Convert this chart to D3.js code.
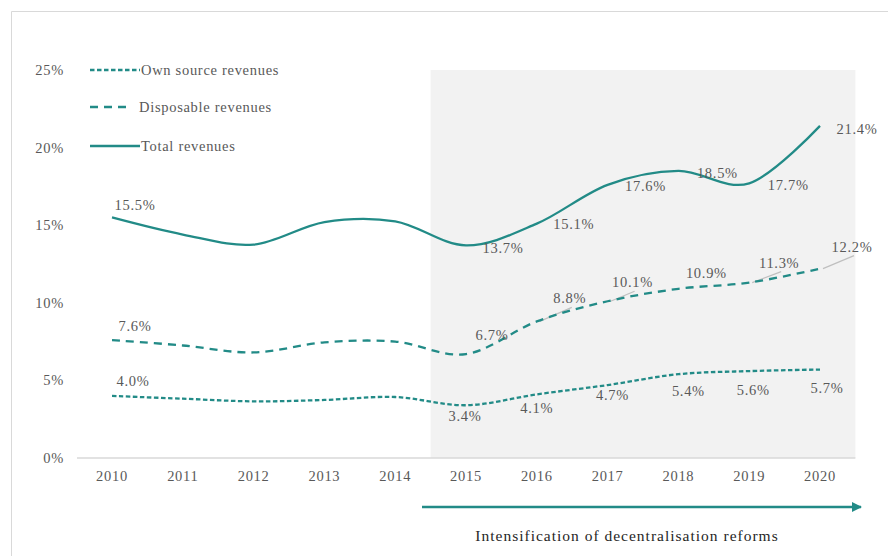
<!DOCTYPE html>
<html>
<head>
<meta charset="utf-8">
<script src="https://cdn.jsdelivr.net/npm/d3@7"></script>
<style>
  body { margin: 0; background: #fff; }
  svg text { font-family: "Liberation Serif", "Times New Roman", serif; fill: #595959; letter-spacing: 0.7px; }
</style>
</head>
<body>
<svg id="chart" width="888" height="556"></svg>
<script>
// data (percent of GDP)
const years = [2010, 2011, 2012, 2013, 2014, 2015, 2016, 2017, 2018, 2019, 2020];
const ownSource = [4.0, 3.82, 3.65, 3.74, 3.93, 3.4, 4.1, 4.7, 5.4, 5.6, 5.7];
const disposable = [7.6, 7.25, 6.8, 7.45, 7.5, 6.7, 8.8, 10.1, 10.9, 11.3, 12.2];
const total = [15.5, 14.4, 13.75, 15.2, 15.25, 13.7, 15.1, 17.6, 18.5, 17.7, 21.4];
const yTicks = [0, 5, 10, 15, 20, 25];
const labelledYears = [2010, 2015, 2016, 2017, 2018, 2019, 2020];
const reformStart = 2015;

// label offsets from their point (px), [dx, dy]
const totalOffsets = { 2010: [23, -13], 2015: [37, 3], 2016: [37, 0], 2017: [38, 1], 2018: [39, 2], 2019: [39, 2], 2020: [37, 3] };
const dispOffsets = { 2010: [23, -14], 2015: [26, -19], 2016: [33, -23], 2017: [25, -19], 2018: [28, -16], 2019: [30, -20], 2020: [32, -22] };
const ownOffsets = { 2010: [21, -15], 2015: [-1, 11], 2016: [0, 14], 2017: [5, 10], 2018: [10, 17], 2019: [4, 19], 2020: [7, 18] };
const dispLeaders = [2016, 2017, 2019, 2020];

const teal = "#228b87";
const fontSize = "14.5px";
const svg = d3.select("#chart");

// outer frame
svg.append("path")
  .attr("d", "M11.5,556 V11.5 H888")
  .attr("fill", "none")
  .attr("stroke", "#d9d9d9");

const x = d3.scalePoint().domain(years).range([112, 820]);
const y = d3.scaleLinear().domain([0, 25]).range([458, 70]);
const step = x.step();

// shaded reform period
svg.append("rect")
  .attr("x", x(reformStart) - step / 2)
  .attr("y", y(25))
  .attr("width", x(2020) + step / 2 - (x(reformStart) - step / 2))
  .attr("height", y(0) - y(25))
  .attr("fill", "#f2f2f2");

// axes
svg.append("line")
  .attr("x1", 77).attr("x2", x(2020) + step / 2)
  .attr("y1", y(0)).attr("y2", y(0))
  .attr("stroke", "#d9d9d9").attr("stroke-width", 1.5);

svg.append("g")
  .selectAll("text")
  .data(yTicks)
  .join("text")
  .attr("x", 64)
  .attr("y", (d) => y(d))
  .attr("dy", "0.35em")
  .attr("text-anchor", "end")
  .style("font-size", fontSize)
  .text((d) => d + "%");

svg.append("g")
  .selectAll("text")
  .data(years)
  .join("text")
  .attr("x", (d) => x(d))
  .attr("y", 476)
  .attr("dy", "0.35em")
  .attr("text-anchor", "middle")
  .style("font-size", fontSize)
  .text((d) => d);

const series = [
  { name: "Own source revenues", values: ownSource, dash: "4.5,2.5", offsets: ownOffsets },
  { name: "Disposable revenues", values: disposable, dash: "8,6", offsets: dispOffsets },
  { name: "Total revenues", values: total, dash: null, offsets: totalOffsets }
];

const line = d3.line()
  .x((d) => x(d.year))
  .y((d) => y(d.value))
  .curve(d3.curveCatmullRom.alpha(0));

// leader lines for some disposable labels
svg.append("g")
  .selectAll("line")
  .data(dispLeaders)
  .join("line")
  .attr("x1", (d) => x(d) + 3)
  .attr("y1", (d) => y(disposable[years.indexOf(d)]))
  .attr("x2", (d) => x(d) + dispOffsets[d][0] + 2)
  .attr("y2", (d) => y(disposable[years.indexOf(d)]) + dispOffsets[d][1] + 9)
  .attr("stroke", "#bfbfbf")
  .attr("stroke-width", 1.2);

series.forEach((s) => {
  const pts = years.map((yr, i) => ({ year: yr, value: s.values[i] }));
  svg.append("path")
    .datum(pts)
    .attr("fill", "none")
    .attr("stroke", teal)
    .attr("stroke-width", 2.3)
    .attr("stroke-dasharray", s.dash)
    .attr("d", line);

  svg.append("g")
    .selectAll("text")
    .data(pts.filter((p) => labelledYears.includes(p.year)))
    .join("text")
    .attr("x", (d) => x(d.year) + s.offsets[d.year][0])
    .attr("y", (d) => y(d.value) + s.offsets[d.year][1])
    .attr("dy", "0.35em")
    .attr("text-anchor", "middle")
    .style("font-size", fontSize)
    .text((d) => d.value.toFixed(1) + "%");
});

// legend
const legend = svg.append("g");
const legendY = [70, 107, 146];
series.forEach((s, i) => {
  legend.append("line")
    .attr("x1", 90).attr("x2", s.dash === "8,6" ? 130 : 140)
    .attr("y1", legendY[i]).attr("y2", legendY[i])
    .attr("stroke", teal)
    .attr("stroke-width", 2.3)
    .attr("stroke-dasharray", s.dash);
  legend.append("text")
    .attr("x", s.dash === "8,6" ? 139 : 141)
    .attr("y", legendY[i])
    .attr("dy", "0.35em")
    .style("font-size", fontSize)
    .text(s.name);
});

// reform arrow
const defs = svg.append("defs");
defs.append("marker")
  .attr("id", "arrowhead")
  .attr("viewBox", "0 0 10 10")
  .attr("refX", 9).attr("refY", 5)
  .attr("markerWidth", 4).attr("markerHeight", 4)
  .attr("orient", "auto")
  .append("path")
  .attr("d", "M0,0 L10,5 L0,10 Z")
  .attr("fill", teal);

svg.append("line")
  .attr("x1", 422).attr("x2", 861)
  .attr("y1", 507).attr("y2", 507)
  .attr("stroke", teal)
  .attr("stroke-width", 2.5)
  .attr("marker-end", "url(#arrowhead)");

svg.append("text")
  .attr("x", 627)
  .attr("y", 536)
  .attr("dy", "0.35em")
  .attr("text-anchor", "middle")
  .style("font-size", "15.5px")
  .style("letter-spacing", "1px")
  .style("fill", "#262626")
  .text("Intensification of decentralisation reforms");
</script>
</body>
</html>
